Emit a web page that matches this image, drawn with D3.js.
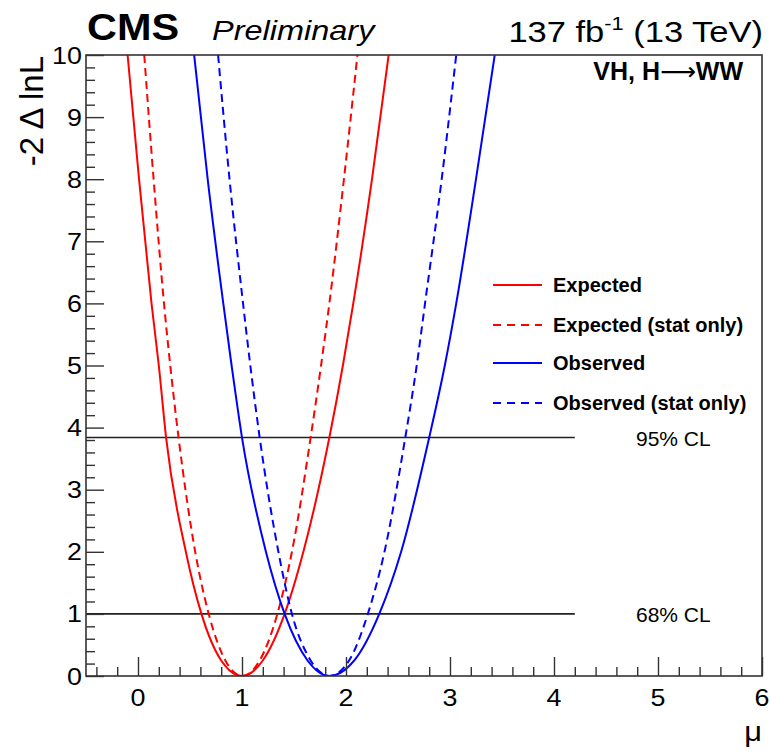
<!DOCTYPE html>
<html>
<head>
<meta charset="utf-8">
<script src="https://cdn.jsdelivr.net/npm/d3@7"></script>
<style>
  body { margin: 0; background: #fff; }
  text { font-family: "Liberation Sans", Arial, Helvetica, sans-serif; }
</style>
</head>
<body>
<div id="chart"></div>
<script>
// === DATA ===
// -2 Delta lnL levels, left branch down to the minimum then right branch up
const dnll = [10, 8, 6, 5, 3.84, 2, 1, 0.25, 0, 0.25, 1, 2, 3.84, 5, 6, 8, 10];
const muExpected     = [-0.10, 0.01, 0.13, 0.20, 0.27, 0.46, 0.61, 0.80, 1.00, 1.20, 1.41, 1.59, 1.84, 1.97, 2.07, 2.25, 2.41];
const muExpectedStat = [0.06, 0.15, 0.25, 0.31, 0.39, 0.55, 0.68, 0.84, 1.00, 1.17, 1.34, 1.48, 1.66, 1.76, 1.84, 1.98, 2.11];
const muObserved     = [0.54, 0.67, 0.82, 0.90, 1.00, 1.23, 1.41, 1.63, 1.84, 2.08, 2.32, 2.53, 2.80, 2.95, 3.06, 3.25, 3.43];
const muObservedStat = [0.77, 0.88, 1.01, 1.08, 1.17, 1.35, 1.48, 1.66, 1.84, 2.03, 2.21, 2.37, 2.57, 2.68, 2.76, 2.92, 3.06];

const seriesNames = ["Expected", "Expected (stat only)", "Observed", "Observed (stat only)"];
const seriesColors = ["#ff0000", "#ff0000", "#0000ff", "#0000ff"];
const seriesDashed = [false, true, false, true];
const seriesMu = [muExpected, muExpectedStat, muObserved, muObservedStat];

const clLevels = [3.84, 1];
const clLabels = ["95% CL", "68% CL"];
const clEnd = 4.2;

const xTicks = [0, 1, 2, 3, 4, 5, 6];
const yTicks = [0, 1, 2, 3, 4, 5, 6, 7, 8, 9, 10];

// === LAYOUT ===
const width = 770, height = 751;
const frameLeft = 86, frameRight = 762, frameTop = 55, frameBottom = 676;

const svg = d3.select("#chart").append("svg")
    .attr("width", width)
    .attr("height", height);

const x = d3.scaleLinear().domain([-0.5, 6]).range([frameLeft, frameRight]);
const y = d3.scaleLinear().domain([0, 10]).range([frameBottom, frameTop]);

const axisColor = "#333";

// text helper with a horizontal stretch (ROOT fonts look wider)
function label(str, px, py, size, opts = {}) {
    return svg.append("text")
        .attr("transform", `translate(${px},${py}) scale(${opts.sx || 1},1)`)
        .attr("text-anchor", opts.anchor || "start")
        .attr("font-size", size)
        .attr("font-weight", opts.weight || "normal")
        .attr("font-style", opts.style || "normal")
        .attr("fill", "#000")
        .text(str);
}

// clip for the curves
svg.append("clipPath").attr("id", "frame-clip")
    .append("rect")
    .attr("x", frameLeft).attr("y", frameTop)
    .attr("width", frameRight - frameLeft).attr("height", frameBottom - frameTop);

// === CL LINES ===
clLevels.forEach((lv, i) => {
    svg.append("line")
        .attr("x1", x(-0.5)).attr("x2", x(clEnd))
        .attr("y1", y(lv)).attr("y2", y(lv))
        .attr("stroke", "#222").attr("stroke-width", 1.6);
    label(clLabels[i], 636, y(lv) + 8, 20, { sx: 1.05 });
});

// === CURVES ===
const line = d3.line()
    .x(d => x(d[0]))
    .y(d => y(d[1]))
    .curve(d3.curveMonotoneX);

const curves = svg.append("g").attr("clip-path", "url(#frame-clip)");
seriesMu.forEach((mus, i) => {
    curves.append("path")
        .attr("d", line(mus.map((m, j) => [m, dnll[j]])))
        .attr("fill", "none")
        .attr("stroke", seriesColors[i])
        .attr("stroke-width", 2)
        .attr("stroke-dasharray", seriesDashed[i] ? "8,5" : null);
});

// === AXES (ROOT style: ticks inside) ===
const xMinorVals = d3.range(-2, 30).map(d => d / 5).filter(d => !Number.isInteger(d));
const yMinorVals = d3.range(0, 51).map(d => d / 5).filter(d => !Number.isInteger(d));
const xMajor = d3.axisBottom(x).tickValues(xTicks).tickSize(-19).tickFormat("");
const xMinor = d3.axisBottom(x).tickValues(xMinorVals).tickSize(-9).tickFormat("");
const yMajor = d3.axisLeft(y).tickValues(yTicks).tickSize(-18).tickFormat("");
const yMinor = d3.axisLeft(y).tickValues(yMinorVals).tickSize(-9).tickFormat("");

[[xMinor, "x"], [xMajor, "x"], [yMinor, "y"], [yMajor, "y"]].forEach(([ax, k]) => {
    const g = svg.append("g")
        .attr("transform", k === "x" ? `translate(0,${frameBottom})` : `translate(${frameLeft},0)`)
        .call(ax);
    g.select(".domain").remove();
    g.selectAll("line").attr("stroke", axisColor).attr("stroke-width", 1.4);
});

// tick labels
xTicks.forEach(t => label(String(t), x(t), 706, 24, { anchor: "middle", sx: 1.12 }));
yTicks.forEach(t => label(String(t), 82, y(t) + 8.5, 24, { anchor: "end", sx: 1.12 }));

// frame
svg.append("rect")
    .attr("x", frameLeft).attr("y", frameTop)
    .attr("width", frameRight - frameLeft).attr("height", frameBottom - frameTop)
    .attr("fill", "none").attr("stroke", axisColor).attr("stroke-width", 1.6);

// axis titles
label("\u03bc", 762, 741, 28, { anchor: "end", sx: 1.1 });
svg.append("text")
    .attr("transform", `translate(43,56) rotate(-90)`)
    .attr("text-anchor", "end")
    .attr("font-size", 33)
    .text("-2 \u0394 lnL");

// === HEADER ===
label("CMS", 87, 40, 37, { weight: "bold", sx: 1.12 });
label("Preliminary", 212, 40, 28, { style: "italic", sx: 1.16 });

const lumi = svg.append("text")
    .attr("transform", `translate(763,42) scale(1.15,1)`)
    .attr("text-anchor", "end")
    .attr("font-size", 30);
lumi.append("tspan").text("137 fb");
lumi.append("tspan").attr("font-size", 19).attr("dy", -12).text("-1");
lumi.append("tspan").attr("dy", 12).text(" (13 TeV)");

const tag = svg.append("text")
    .attr("transform", `translate(743,80)`)
    .attr("text-anchor", "end")
    .attr("font-size", 25)
    .attr("font-weight", "bold");
tag.append("tspan").text("VH, H");
tag.append("tspan").attr("font-weight", "normal").attr("font-family", "DejaVu Sans").text("\u27f6");
tag.append("tspan").text("WW");

// === LEGEND ===
const legendRows = [285, 325, 363, 403];
seriesNames.forEach((name, i) => {
    svg.append("line")
        .attr("x1", 493).attr("x2", 542)
        .attr("y1", legendRows[i]).attr("y2", legendRows[i])
        .attr("stroke", seriesColors[i]).attr("stroke-width", 2)
        .attr("stroke-dasharray", seriesDashed[i] ? "8,6" : null);
    label(name, 553, legendRows[i] + 7, 20, { weight: "bold" });
});
</script>
</body>
</html>
